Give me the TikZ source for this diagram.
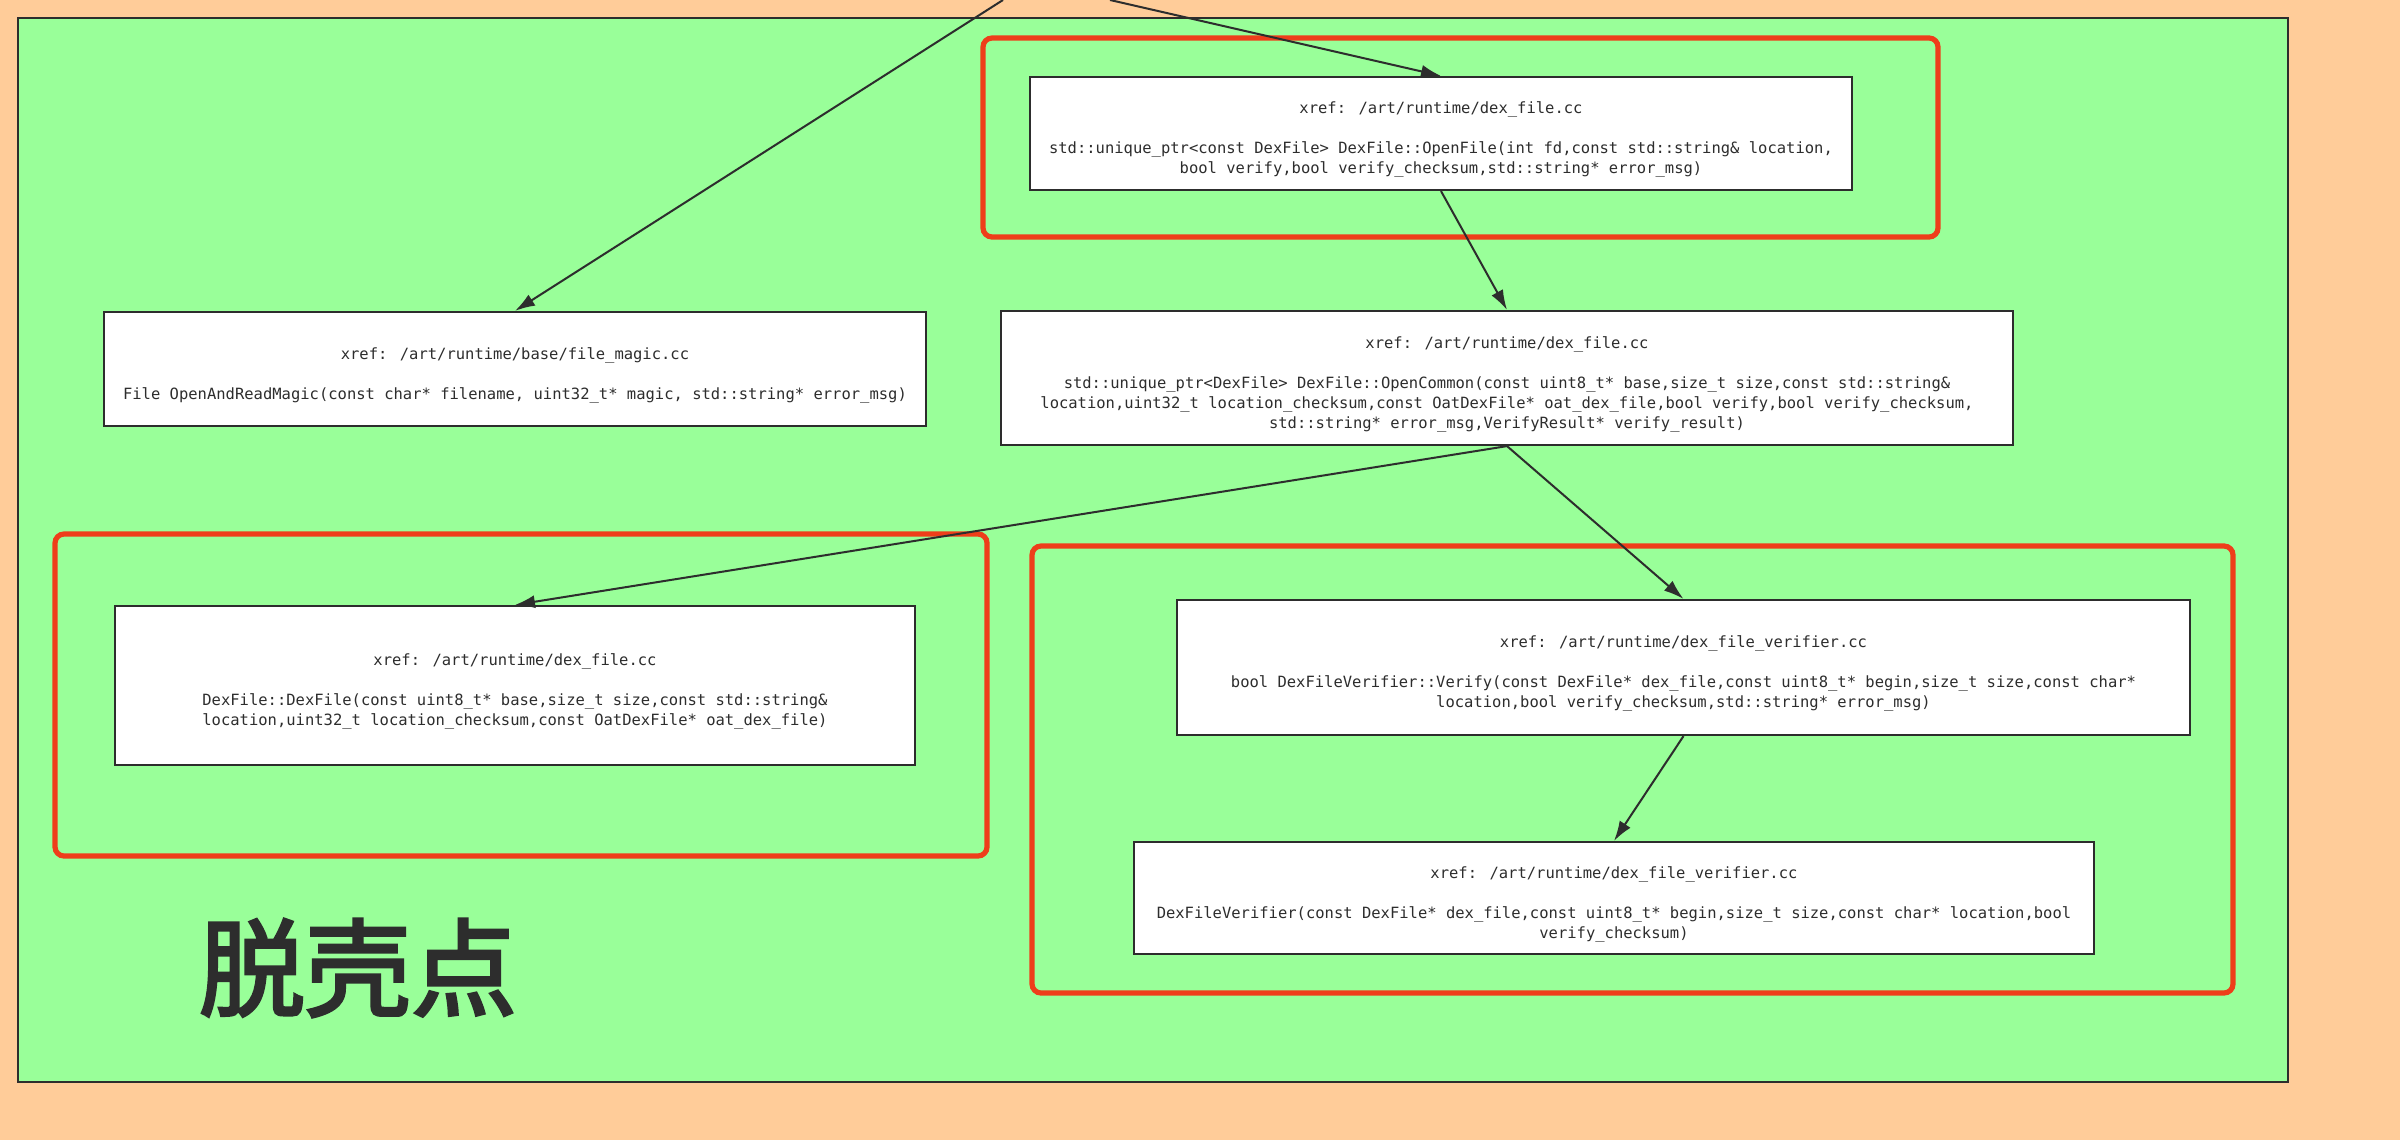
\documentclass[tikz,border=0pt]{standalone}
\usepackage{fontspec}
\usetikzlibrary{arrows.meta}
\newfontfamily\codefont{DejaVu Sans Mono}
\newfontfamily\cjk{Noto Sans CJK SC}[FakeBold=2.8]
\definecolor{pagebg}{RGB}{255,204,153}
\definecolor{panelbg}{RGB}{153,255,153}
\definecolor{hilite}{RGB}{238,62,26}
\definecolor{ink}{RGB}{45,45,45}
\tikzset{
  fnbox/.style={draw=ink, line width=1.1pt, fill=white, inner sep=0pt},
  fntext/.style={inner sep=0pt, yshift=-3pt, align=center, text=ink,
    font=\codefont\fontsize{7.75pt}{10pt}\selectfont},
  callarrow/.style={draw=ink, line width=1pt, -{Latex[length=10pt,width=6.5pt]}},
  hibox/.style={draw=hilite, line width=2.6pt, rounded corners=4.5pt}
}
\begin{document}
\begin{tikzpicture}[x=0.5pt,y=-0.5pt]
  % page and panel
  \fill[pagebg] (0,0) rectangle (2400,1140);
  \useasboundingbox (0,0) rectangle (2400,1140);
  \draw[fill=panelbg, draw=ink, line width=1pt] (18,18) rectangle (2288,1082);

  % highlighted groups
  \draw[hibox] (983,38) rectangle (1938,237);
  \draw[hibox] (55,534) rectangle (987,856);
  \draw[hibox] (1032,546) rectangle (2233,993);

  % function boxes
  \node[fnbox, minimum width=411pt, minimum height=56.5pt] (openfile) at (1441,133.5) {};
  \node[fntext] (openfile-t) at (openfile.center)
    {xref: /art/runtime/dex\_file.cc\\[10pt]
     std::unique\_ptr<const DexFile> DexFile::OpenFile(int fd,const std::string\& location,\\
     bool verify,bool verify\_checksum,std::string* error\_msg)};

  \node[fnbox, minimum width=411pt, minimum height=57pt] (magic) at (515,369) {};
  \node[fntext] (magic-t) at (magic.center)
    {xref: /art/runtime/base/file\_magic.cc\\[10pt]
     File OpenAndReadMagic(const char* filename, uint32\_t* magic, std::string* error\_msg)};

  \node[fnbox, minimum width=506pt, minimum height=67pt] (opencommon) at (1507,378) {};
  \node[fntext] (opencommon-t) at (opencommon.center)
    {xref: /art/runtime/dex\_file.cc\\[10pt]
     std::unique\_ptr<DexFile> DexFile::OpenCommon(const uint8\_t* base,size\_t size,const std::string\&\\
     location,uint32\_t location\_checksum,const OatDexFile* oat\_dex\_file,bool verify,bool verify\_checksum,\\
     std::string* error\_msg,VerifyResult* verify\_result)};

  \node[fnbox, minimum width=400pt, minimum height=79.5pt] (ctor) at (515,685.5) {};
  \node[fntext] (ctor-t) at (ctor.center)
    {xref: /art/runtime/dex\_file.cc\\[10pt]
     DexFile::DexFile(const uint8\_t* base,size\_t size,const std::string\&\\
     location,uint32\_t location\_checksum,const OatDexFile* oat\_dex\_file)};

  \node[fnbox, minimum width=506.5pt, minimum height=67.5pt] (verify) at (1683.5,667.5) {};
  \node[fntext] (verify-t) at (verify.center)
    {xref: /art/runtime/dex\_file\_verifier.cc\\[10pt]
     bool DexFileVerifier::Verify(const DexFile* dex\_file,const uint8\_t* begin,size\_t size,const char*\\
     location,bool verify\_checksum,std::string* error\_msg)};

  \node[fnbox, minimum width=480pt, minimum height=56pt] (verifier) at (1614,898) {};
  \node[fntext] (verifier-t) at (verifier.center)
    {xref: /art/runtime/dex\_file\_verifier.cc\\[10pt]
     DexFileVerifier(const DexFile* dex\_file,const uint8\_t* begin,size\_t size,const char* location,bool\\
     verify\_checksum)};

  % label
  \node[text=ink, font=\cjk\fontsize{53pt}{60pt}\selectfont, inner sep=0pt]
    (label) at (358,968) {脱壳点};

  % calls
  \coordinate (inA) at (1003,0);
  \coordinate (inB) at (1110,0);
  \draw[callarrow] (inA) -- (magic.north);
  \draw[callarrow] (inB) -- (openfile.north);
  \draw[callarrow] (openfile.south) -- (opencommon.north);
  \draw[callarrow] (opencommon.south) -- (ctor.north);
  \draw[callarrow] (opencommon.south) -- (verify.north);
  \draw[callarrow] (verify.south) -- (verifier.north);
\end{tikzpicture}
\end{document}
